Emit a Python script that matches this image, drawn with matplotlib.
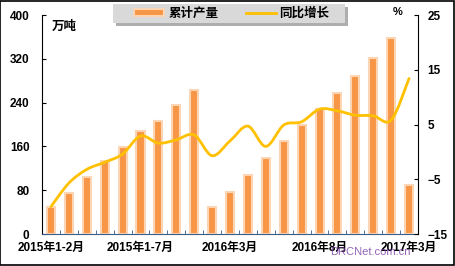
import matplotlib

matplotlib.use("Agg")
import matplotlib.pyplot as plt
from matplotlib.path import Path
from matplotlib.patches import PathPatch, Rectangle
from matplotlib.lines import Line2D

plt.rcParams["font.family"] = ["Liberation Sans", "Noto Sans CJK SC"]
plt.rcParams["font.weight"] = "bold"

categories = (
    [f"2015年1-{m}月" for m in range(2, 11)]
    + ["2016年1-2月"] + [f"2016年{m}月" for m in range(3, 13)]
    + ["2017年3月"]
)
output = [49, 74, 105, 134, 158, 188, 207, 235, 263,
          49, 77, 107, 138, 169, 199, 229, 258, 288, 321, 358, 89]
growth = [-10.0, -5.7, -3.2, -1.9, -0.4, 2.9, 1.6, 2.2, 3.1,
          -0.7, 2.0, 4.7, 1.0, 4.9, 5.5, 7.8, 7.5, 6.7, 6.6, 5.8, 13.4]
shown_labels = {0: "2015年1-2月", 5: "2015年1-7月", 10: "2016年3月",
                15: "2016年8月", 20: "2017年3月"}

BAR = "#F79646"
BAR_EDGE = "#FCD5B4"
LINE = "#FFC000"
AXIS_BLUE = "#385D8A"
W, H = 455, 266


def smooth_path(xs, ys):
    # catmull-rom style bezier like excel "smoothed line"
    verts = [(xs[0], ys[0])]
    codes = [Path.MOVETO]
    n = len(xs)
    for i in range(n - 1):
        x0, y0 = (xs[i - 1], ys[i - 1]) if i > 0 else (xs[i], ys[i])
        x1, y1 = xs[i], ys[i]
        x2, y2 = xs[i + 1], ys[i + 1]
        x3, y3 = (xs[i + 2], ys[i + 2]) if i + 2 < n else (x2, y2)
        verts += [(x1 + (x2 - x0) / 6, y1 + (y2 - y0) / 6),
                  (x2 - (x3 - x1) / 6, y2 - (y3 - y1) / 6),
                  (x2, y2)]
        codes += [Path.CURVE4] * 3
    return Path(verts, codes)


def px_rect(x0, y0, x1, y1, **kw):
    # rectangle given in picture pixels from top-left
    return Rectangle((x0 / W, 1 - y1 / H), (x1 - x0) / W, (y1 - y0) / H,
                     transform=fig.transFigure, **kw)


fig = plt.figure(figsize=(4.55, 2.66), dpi=100)
ax = fig.add_axes([0.0923, 0.1203, 0.8264, 0.8233])
x = list(range(len(categories)))

ax.bar(x, output, width=0.45, color=BAR, edgecolor=BAR_EDGE, linewidth=1.5, zorder=2)
ax.set_xlim(-0.5, len(categories) - 0.5)
ax.set_ylim(0, 400)
ax.set_yticks([0, 80, 160, 240, 320, 400])
ax.tick_params(axis="y", direction="in", length=3, pad=9, labelsize=8.5, color="black")
ax.set_xticks(list(shown_labels.keys()))
ax.set_xticklabels(list(shown_labels.values()))
ax.tick_params(axis="x", length=0, pad=6, labelsize=8.5)
ax.set_xticks([i + 0.5 for i in x[:-1]], minor=True)
ax.tick_params(axis="x", which="minor", direction="in", length=3, color=AXIS_BLUE)
ax.spines["top"].set_visible(False)
ax.spines["right"].set_visible(False)
ax.spines["bottom"].set_color(AXIS_BLUE)
ax.spines["left"].set_color("black")

ax2 = ax.twinx()
ax2.set_ylim(-15, 25)
ax2.set_yticks([-15, -5, 5, 15, 25])
ax2.tick_params(axis="y", direction="in", length=3, pad=7, labelsize=8.5)
ax2.spines["top"].set_visible(False)
ax2.spines["left"].set_visible(False)
ax2.spines["bottom"].set_visible(False)
ax2.add_patch(PathPatch(smooth_path(x, growth), facecolor="none", edgecolor=LINE,
                        linewidth=2.0, capstyle="round", zorder=3))

ax.text(0.025, 0.975, "万吨", transform=ax.transAxes, fontsize=9,
        ha="left", va="top")
fig.text(398 / W, 1 - 12 / H, "%", fontsize=8, ha="center", va="center")

# legend box with drop shadow
fig.patches.append(px_rect(116, 7, 348, 26, facecolor="#8C8C8C", edgecolor="none", alpha=0.7))
fig.patches.append(px_rect(113, 4, 345, 23, facecolor="#D9D9D9", edgecolor="none"))
handles = [Rectangle((0, 0), 1, 1, facecolor=BAR, edgecolor=BAR_EDGE, linewidth=1.5),
           Line2D([], [], color=LINE, linewidth=2.0)]
fig.legend(handles, ["累计产量", "同比增长"], ncol=2, loc="center",
           bbox_to_anchor=(232 / W, 1 - 13.5 / H), fontsize=9, frameon=False,
           handlelength=2.4, handleheight=0.55, handletextpad=0.3,
           columnspacing=2.2, borderpad=0)

fig.text(0.815, 0.052, "DRCNet.com.cn", fontsize=8, color="#7030A0", alpha=0.75,
         fontweight="normal", ha="center", va="center")

fig.patches.append(Rectangle((0.001, 0.002), 0.997, 0.995, transform=fig.transFigure,
                             fill=False, edgecolor="black", linewidth=1.2))

fig.savefig("out.png", dpi=100)
